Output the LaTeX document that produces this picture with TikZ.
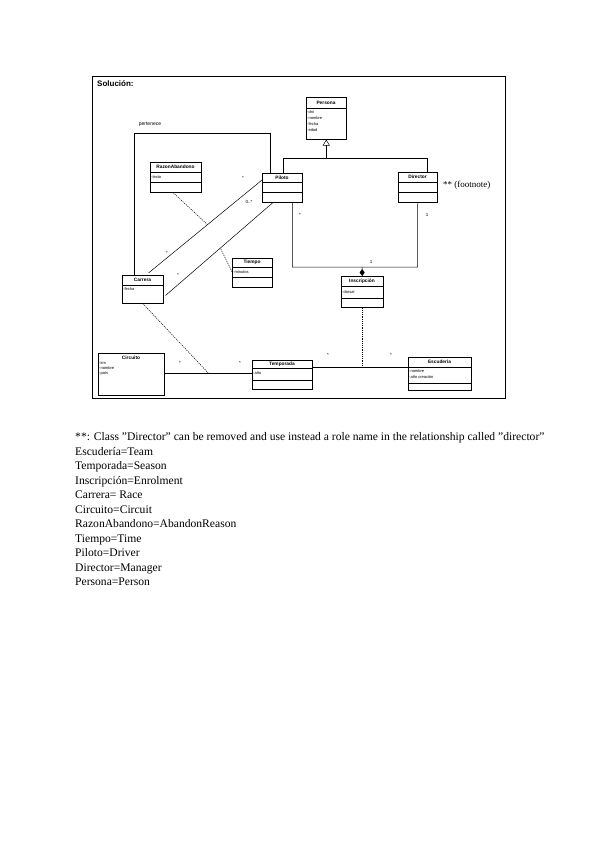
\documentclass[tikz,border=0pt]{standalone}
\usepackage{fontspec}
\setmainfont{Liberation Serif}
\setsansfont{Liberation Sans}
\usetikzlibrary{calc,arrows.meta}
\tikzset{
  cls/.style={draw, rectangle, line width=0.5pt, inner sep=0pt, anchor=north west},
  cname/.style={font=\sffamily\bfseries\fontsize{4.8}{6}\selectfont, inner sep=0pt},
  cattr/.style={font=\sffamily\fontsize{4}{5}\selectfont, inner sep=0pt, anchor=west},
  assoc/.style={line width=0.5pt},
  aclass/.style={line width=0.5pt, dash pattern=on 1.2pt off 1pt},
  mult/.style={font=\sffamily\fontsize{4.5}{5}\selectfont, inner sep=0pt},
  note/.style={font=\fontsize{11.6}{13}\selectfont, inner sep=0pt, anchor=base west}
}
\begin{document}
\begin{tikzpicture}[x=1pt,y=-1pt]
\useasboundingbox (0,0) rectangle (603,848);
% frame
\draw[line width=0.8pt] (92,398) -- (92,76) -- (505,76) -- (505,398) -- cycle;
\node[font=\bfseries\sffamily\fontsize{8}{9}\selectfont, anchor=west, inner sep=0pt] (sol) at (97,84) {Solución:};

% Persona
\node[cls, minimum width=40pt, minimum height=42pt] (persona) at (306,97) {};
\draw[line width=0.5pt] (306,108) -- (346,108);
\node[cname] (personaN) at (326,102.5) {Persona};
\node[cattr] (pa1) at (307,112) {-dni};
\node[cattr] (pa2) at (307,118) {-nombre};
\node[cattr] (pa3) at (307,124) {-fecha};
\node[cattr] (pa4) at (307,130) {-edad};

% Piloto
\node[cls, minimum width=40pt, minimum height=29pt] (piloto) at (262,173) {};
\draw[line width=0.5pt] (262,182) -- (302,182) (262,192) -- (302,192);
\node[cname] (pilotoN) at (282,177.5) {Piloto};

% Director
\node[cls, minimum width=39pt, minimum height=30pt] (director) at (398,172) {};
\draw[line width=0.5pt] (398,182) -- (437,182) (398,192) -- (437,192);
\node[cname] (directorN) at (417.5,177) {Director};
\node[font=\fontsize{9}{10}\selectfont, anchor=west, inner sep=0pt] (foot) at (443,185) {** (footnote)};

% RazonAbandono
\node[cls, minimum width=51pt, minimum height=30pt] (razon) at (150,162) {};
\draw[line width=0.5pt] (150,172) -- (201,172) (150,182) -- (201,182);
\node[cname] (razonN) at (175.5,167) {RazonAbandono};
\node[cattr] (ra1) at (151,177) {-texto};

% Carrera
\node[cls, minimum width=41pt, minimum height=28pt] (carrera) at (122,275) {};
\draw[line width=0.5pt] (122,285) -- (163,285);
\node[cname] (carreraN) at (142.5,280) {Carrera};
\node[cattr] (ca1) at (123,289) {-fecha};

% Tiempo
\node[cls, minimum width=40pt, minimum height=29pt] (tiempo) at (232,258) {};
\draw[line width=0.5pt] (232,267) -- (272,267) (232,277) -- (272,277);
\node[cname] (tiempoN) at (252,262.5) {Tiempo};
\node[cattr] (ti1) at (233,272) {-minutos};

% Inscripcion
\node[cls, minimum width=42pt, minimum height=31pt] (insc) at (341,276) {};
\draw[line width=0.5pt] (341,286) -- (383,286) (341,298) -- (383,298);
\node[cname] (inscN) at (362,281) {Inscripción};
\node[cattr] (in1) at (342,292) {-dorsal};

% Circuito
\node[cls, minimum width=66pt, minimum height=42pt] (circuito) at (98,353) {};
\node[cname] (circuitoN) at (131,358) {Circuito};
\node[cattr] (ci1) at (99,363) {-km};
\node[cattr] (ci2) at (99,368) {-nombre};
\node[cattr] (ci3) at (99,373) {-país};

% Temporada
\node[cls, minimum width=60pt, minimum height=29pt] (temporada) at (252,360) {};
\draw[line width=0.5pt] (252,368) -- (312,368) (252,380) -- (312,380);
\node[cname] (temporadaN) at (282,364) {Temporada};
\node[cattr] (te1) at (253,373) {-año};

% Escuderia
\node[cls, minimum width=63pt, minimum height=33pt] (escuderia) at (408,357) {};
\draw[line width=0.5pt] (408,367) -- (471,367) (408,383) -- (471,383);
\node[cname] (escuderiaN) at (439.5,362) {Escudería};
\node[cattr] (es1) at (409,371) {-nombre};
\node[cattr] (es2) at (409,377) {-año creación};

% generalization
\coordinate (gbus) at ($(persona.south)+(0,19)$);
\draw[assoc] ($(piloto.north)+(1,0)$) |- ($(director.north)+(9.5,-14)$) -- ($(director.north)+(9.5,0)$);
\draw[assoc, -{Triangle[open,length=6pt,width=7pt]}] (gbus) -- (persona.south);

% Piloto - Director association with Inscripcion (composition)
\draw[assoc] ($(piloto.south)+(10,0)$) |- (417.5,267) coordinate (pdr) -- (director.south);
\coordinate (comp) at (362,267);
\draw[assoc, -{Diamond[length=7pt,width=5pt]}] (comp) -- (insc.north);
\node[mult] (m1) at (300,215) {*};
\node[mult] (m2) at (427,215) {1};
\node[mult] (m3) at (371,262) {1};

% pertenece
\draw[assoc] ($(piloto.north west)+(8,0)$) |- (134,133) -- ($(carrera.north west)+(12,0)$);
\node[font=\sffamily\fontsize{5}{6}\selectfont, inner sep=0pt] (pert) at (150,124) {pertenece};

% Carrera - Piloto
\draw[assoc] ($(carrera.north east)+(-15,-2)$) -- coordinate[pos=0.52] (l1) ($(piloto.north west)+(0,7)$);
\draw[assoc] ($(carrera.south east)+(2,-8)$) -- coordinate[pos=0.51] (l2) ($(piloto.south west)+(11,0)$);
\draw[aclass] ($(razon.south west)+(23,0)$) -- (l1);
\draw[aclass] ($(tiempo.west)+(0,-1)$) -- (l2);
\node[mult] (m4) at (243,178) {*};
\node[mult] (m5) at (249,202) {0..*};
\node[mult] (m6) at (167,253) {*};
\node[mult] (m7) at (178,275) {*};

% Circuito - Temporada with Carrera
\draw[assoc] (circuito.east |- 0,373) -- coordinate[pos=0.5] (ct) (temporada.west |- 0,373);
\draw[aclass] (carrera.south) -- (ct);
\node[mult] (m8) at (180,363) {*};
\node[mult] (m9) at (240,363) {*};

% Temporada - Escuderia with Inscripcion
\draw[assoc] (temporada.east |- 0,367) -- coordinate[pos=0.5] (tes) (escuderia.west |- 0,367);
\draw[aclass] (insc.south) -- (insc.south |- tes);
\node[mult] (m10) at (328,355) {*};
\node[mult] (m11) at (391,355) {*};

% notes
\node[note] (t1) at (75,440) {**: Class "Director" can be removed and use instead a role name in the relationship called "director"};
\node[note] (t2) at (75,455) {Escudería=Team};
\node[note] (t3) at (75,469.5) {Temporada=Season};
\node[note] (t4) at (75,484) {Inscripción=Enrolment};
\node[note] (t5) at (75,498.5) {Carrera= Race};
\node[note] (t6) at (75,513) {Circuito=Circuit};
\node[note] (t7) at (75,527.5) {RazonAbandono=AbandonReason};
\node[note] (t8) at (75,542) {Tiempo=Time};
\node[note] (t9) at (75,556.5) {Piloto=Driver};
\node[note] (t10) at (75,571) {Director=Manager};
\node[note] (t11) at (75,585.5) {Persona=Person};
\end{tikzpicture}
\end{document}
